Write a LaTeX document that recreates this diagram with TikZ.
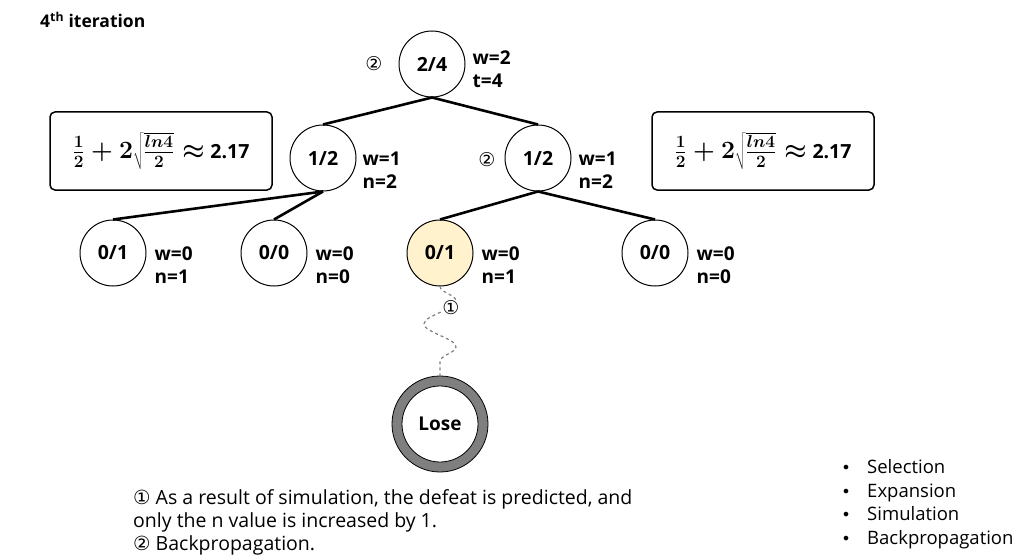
\documentclass[tikz,border=0pt]{standalone}
\usepackage{fontspec}
\setmainfont{Open Sans}
\newfontfamily\dejavu{DejaVu Sans}
\usetikzlibrary{decorations.pathmorphing}
\definecolor{leafyellow}{HTML}{FFF2CC}
\definecolor{ringgray}{HTML}{7F7F7F}
\DeclareMathSizes{23}{23}{17}{12}
\newsavebox{\ucbbox}
\begin{document}
\sbox{\ucbbox}{\fontsize{23}{26}\selectfont\boldmath$\frac{1}{2}+2\sqrt{\frac{ln4}{2}}\approx$\ {\fontsize{19.5}{22}\selectfont\bfseries 2.17}}%
\begin{tikzpicture}[x=1pt,y=-1pt,
  tnode/.style={circle,draw,line width=1pt,minimum size=66pt,inner sep=0pt,font=\fontsize{19.5}{20}\selectfont\bfseries},
  lbl/.style={anchor=base west,inner sep=0pt,font=\fontsize{19}{20}\selectfont\bfseries},
  treeedge/.style={line width=2.6pt},
  formbox/.style={draw,line width=1.5pt,rounded corners=5pt,minimum width=222pt,minimum height=78pt,inner sep=0pt},
  circ/.style={inner sep=0pt,font=\dejavu\fontsize{19}{20}\selectfont},
  body/.style={anchor=base west,inner sep=0pt,font=\fontsize{19.5}{20}\selectfont},
  legend/.style={anchor=base west,inner sep=0pt,font=\fontsize{18.5}{20}\selectfont}
]
\useasboundingbox (0,0) rectangle (1024,556);
% formula boxes
\node[formbox] (fl) at (161,151) {\usebox{\ucbbox}};
\node[formbox] (fr) at (763,151) {\usebox{\ucbbox}};
% title
\node[anchor=west,inner sep=0pt,font=\fontsize{17.5}{20}\selectfont\bfseries] (title) at (40,20) {4\textsuperscript{th} iteration};
% tree nodes
\node[tnode] (root) at (432,64) {2/4};
\node[tnode] (l) at (323,158) {1/2};
\node[tnode] (r) at (538,158) {1/2};
\node[tnode] (ll) at (113,253) {0/1};
\node[tnode] (lr) at (274,253) {0/0};
\node[tnode,fill=leafyellow] (rl) at (440,253) {0/1};
\node[tnode] (rr) at (655,253) {0/0};
% labels
\node[lbl] (rootw) at ([shift={(7,1)}]root.east) {w=2};
\node[lbl] (roott) at ([shift={(0,23)}]rootw.base west) {t=4};
\node[lbl] (lw) at ([shift={(6,7)}]l.east) {w=1};
\node[lbl] (ln) at ([shift={(0,23)}]lw.base west) {n=2};
\node[lbl] (rw) at ([shift={(7,7)}]r.east) {w=1};
\node[lbl] (rn) at ([shift={(0,23)}]rw.base west) {n=2};
\node[lbl] (llw) at ([shift={(8,7)}]ll.east) {w=0};
\node[lbl] (lln) at ([shift={(0,23)}]llw.base west) {n=1};
\node[lbl] (lrw) at ([shift={(8,7)}]lr.east) {w=0};
\node[lbl] (lrn) at ([shift={(0,23)}]lrw.base west) {n=0};
\node[lbl] (rlw) at ([shift={(8,7)}]rl.east) {w=0};
\node[lbl] (rln) at ([shift={(0,23)}]rlw.base west) {n=1};
\node[lbl] (rrw) at ([shift={(8,7)}]rr.east) {w=0};
\node[lbl] (rrn) at ([shift={(0,23)}]rrw.base west) {n=0};
% circled marks
\node[circ] (c2a) at (374,64) {②};
\node[circ] (c2b) at (487,160) {②};
% edges
\draw[treeedge] (root.south) -- (l.north);
\draw[treeedge] (root.south) -- (r.north);
\draw[treeedge] (l.south) -- (ll.north);
\draw[treeedge] (l.south) -- (lr.north);
\draw[treeedge] (r.south) -- (rl.north);
\draw[treeedge] (r.south) -- (rr.north);
% lose node
\node[circle,draw,line width=0.8pt,fill=ringgray,minimum size=96pt,inner sep=0pt] (loseo) at (440,424) {};
\node[circle,draw,line width=0.8pt,fill=white,minimum size=76pt,inner sep=0pt,font=\fontsize{19}{20}\selectfont\bfseries] (lose) at (loseo.center) {Lose};
% simulation wave
\draw[gray,dashed,line width=1.2pt,decorate,decoration={snake,amplitude=16pt,segment length=46pt}] (rl.south) -- (loseo.north);
\node[circ,fill=white,inner sep=0.3pt] (c1) at (451,308) {①};
% bottom text
\node[body] (t1) at (133,504) {{\dejavu ①} As a result of simulation, the defeat is predicted, and};
\node[body] (t2) at (133,527) {only the n value is increased by 1.};
\node[body] (t3) at (133,550) {{\dejavu ②} Backpropagation.};
% legend
\foreach \y/\t [count=\i] in {473/Selection,497/Expansion,520/Simulation,544/Backpropagation}{
  \node[anchor=base,inner sep=0pt,font=\dejavu\fontsize{16}{16}\selectfont] (b\i) at (846,\y) {•};
  \node[legend] (lg\i) at (867,\y) {\t};
}
\end{tikzpicture}
\end{document}
